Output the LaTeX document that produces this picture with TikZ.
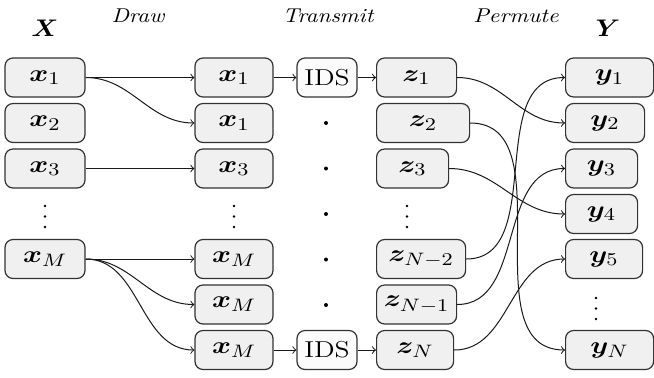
\documentclass[tikz,border=0pt]{standalone}
\usepackage{amsmath,bm,graphicx}
\newcommand\sx[2][1.2]{\scalebox{#1}[1]{#2}}
\begin{document}
\begin{tikzpicture}[x=0.5pt,y=-0.5pt,
  box/.style={draw=black!80, fill=black!6, rounded corners=4pt, line width=0.6pt,
    minimum height=19.5pt, inner sep=0pt, font=\fontsize{13}{15}\selectfont},
  idsbox/.style={box, fill=black!1.5, minimum width=30pt, font=\fontsize{11.5}{13}\selectfont},
  zbox/.style={box, anchor=west},
  arr/.style={->, line width=0.5pt, black!90},
  lbl/.style={font=\fontsize{10}{12}\selectfont\itshape, inner sep=0pt},
  biglbl/.style={font=\fontsize{13}{15}\selectfont, inner sep=0pt},
  dt/.style={circle, fill=black, inner sep=0pt, minimum size=1.3pt},
  bul/.style={circle, fill=black, inner sep=0pt, minimum size=2pt}]
\useasboundingbox (0,0) rectangle (654,377);

% headings
\node[biglbl] (hX) at (45,28) {\sx[1.1]{$\bm{X}$}};
\node[lbl] (hD) at (138,16) {\sx[1.15]{Draw}};
\node[lbl] (hT) at (328,16) {\sx[1.15]{Transmit}};
\node[lbl] (hP) at (516,16) {\sx[1.15]{Permute}};
\node[biglbl] (hY) at (608,28) {\sx[1.1]{$\bm{Y}$}};

% column X
\node[box, minimum width=40pt] (a1) at (45,77.5) {\sx{$\bm{x}_1$}};
\node[box, minimum width=40pt] (a2) at (45,123) {\sx{$\bm{x}_2$}};
\node[box, minimum width=40pt] (a3) at (45,168.5) {\sx{$\bm{x}_3$}};
\node[dt] (a4a) at (45,206) {};
\node[dt] (a4b) at (45,216.5) {};
\node[dt] (a4c) at (45,227) {};
\node[box, minimum width=40pt] (aM) at (45,259) {\sx{$\bm{x}_M$}};

% column drawn
\node[box, minimum width=39pt] (b1) at (234,77.5) {\sx{$\bm{x}_1$}};
\node[box, minimum width=39pt] (b2) at (234,123) {\sx{$\bm{x}_1$}};
\node[box, minimum width=39pt] (b3) at (234,168.5) {\sx{$\bm{x}_3$}};
\node[dt] (b4a) at (234,206) {};
\node[dt] (b4b) at (234,216.5) {};
\node[dt] (b4c) at (234,227) {};
\node[box, minimum width=39pt] (b5) at (234,259) {\sx{$\bm{x}_M$}};
\node[box, minimum width=39pt] (b6) at (234,304.5) {\sx{$\bm{x}_M$}};
\node[box, minimum width=39pt] (b7) at (234,350) {\sx{$\bm{x}_M$}};

% transmit
\node[idsbox] (i1) at (327,77.5) {\sx{IDS}};
\node[bul] (d2) at (326,123) {};
\node[bul] (d3) at (326,168.5) {};
\node[bul] (d4) at (326,214) {};
\node[bul] (d5) at (326,259.5) {};
\node[bul] (d6) at (326,305) {};
\node[idsbox] (i7) at (327,350) {\sx{IDS}};

% column Z
\node[zbox, minimum width=40pt] (z1) at (376,77.5) {\sx{$\bm{z}_1$}};
\node[zbox, minimum width=46.5pt] (z2) at (376,123) {\sx{$\bm{z}_2$}};
\node[zbox, minimum width=36pt] (z3) at (376,168.5) {\sx{$\bm{z}_3$}};
\node[dt] (z4a) at (407,206) {};
\node[dt] (z4b) at (407,216.5) {};
\node[dt] (z4c) at (407,227) {};
\node[zbox, minimum width=44.5pt] (z5) at (376,259) {\sx{$\bm{z}_{N-2}$}};
\node[zbox, minimum width=40pt] (z6) at (376,304.5) {\sx{$\bm{z}_{N-1}$}};
\node[zbox, minimum width=38.5pt] (z7) at (376,350) {\sx{$\bm{z}_N$}};

% column Y
\node[zbox, minimum width=44pt] (y1) at (565,77.5) {\sx{$\bm{y}_1$}};
\node[zbox, minimum width=39.5pt] (y2) at (565,123) {\sx{$\bm{y}_2$}};
\node[zbox, minimum width=36pt] (y3) at (565,168.5) {\sx{$\bm{y}_3$}};
\node[zbox, minimum width=36pt] (y4) at (565,214) {\sx{$\bm{y}_4$}};
\node[zbox, minimum width=38.5pt] (y5) at (565,259) {\sx{$\bm{y}_5$}};
\node[dt] (y6a) at (596,298) {};
\node[dt] (y6b) at (596,308.5) {};
\node[dt] (y6c) at (596,319) {};
\node[zbox, minimum width=44pt] (y7) at (565,350) {\sx{$\bm{y}_N$}};

% draw
\draw[arr] (a1.east) -- (b1.west);
\draw[arr] (a1.east) to[out=0,in=180] (b2.west);
\draw[arr] (a3.east) -- (b3.west);
\draw[arr] (aM.east) -- (b5.west);
\draw[arr] (aM.east) to[out=0,in=180] (b6.west);
\draw[arr] (aM.east) to[out=0,in=180] (b7.west);

% transmit
\draw[arr] (b1.east) -- (i1.west);
\draw[arr] (i1.east) -- (z1.west);
\draw[arr] (b7.east) -- (i7.west);
\draw[arr] (i7.east) -- (z7.west);

% permute
\draw[arr] (z1.east) to[out=0,in=180] (y2.west);
\draw[arr] (z2.east) to[out=0,in=180] (y7.west);
\draw[arr] (z3.east) to[out=0,in=180] (y4.west);
\draw[arr] (z5.east) to[out=0,in=180] (y1.west);
\draw[arr] (z6.east) to[out=0,in=180] (y3.west);
\draw[arr] (z7.east) to[out=0,in=180] (y5.west);
\end{tikzpicture}
\end{document}
